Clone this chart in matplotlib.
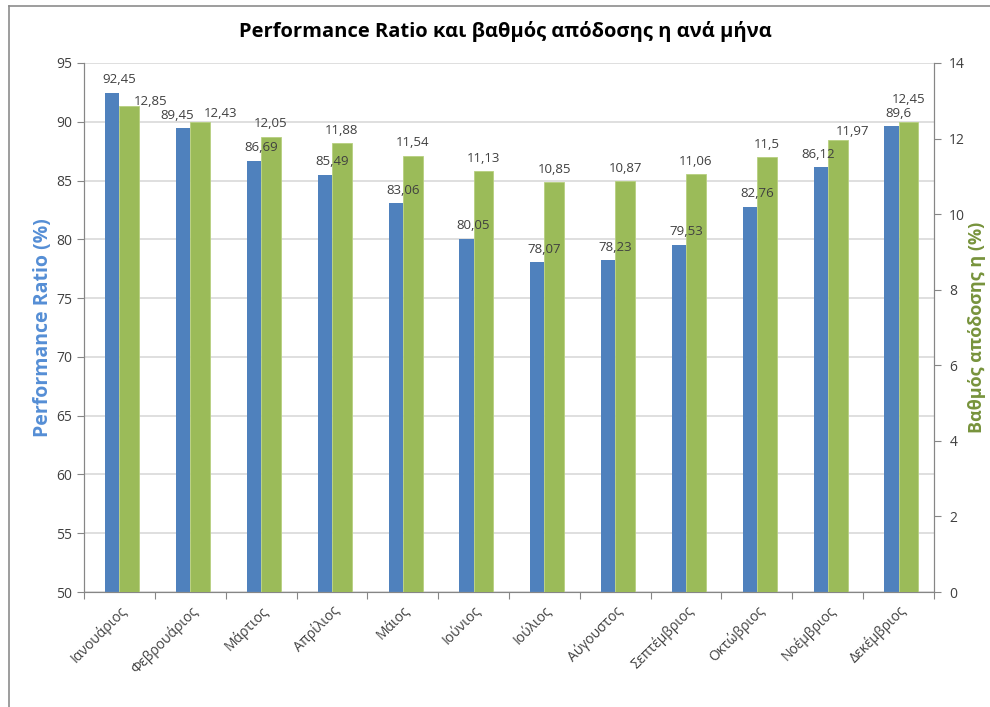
import matplotlib
matplotlib.use("Agg")
import matplotlib.pyplot as plt
import numpy as np
from matplotlib.lines import Line2D

plt.rcParams['font.family'] = ['Open Sans', 'DejaVu Sans']

months = ['Ιανουάριος', 'Φεβρουάριος', 'Μάρτιος', 'Απρίλιος', 'Μάιος', 'Ιούνιος',
          'Ιούλιος', 'Αύγουστος', 'Σεπτέμβριος', 'Οκτώβριος', 'Νοέμβριος', 'Δεκέμβριος']
pr = [92.45, 89.45, 86.69, 85.49, 83.06, 80.05, 78.07, 78.23, 79.53, 82.76, 86.12, 89.6]
eff = [12.85, 12.43, 12.05, 11.88, 11.54, 11.13, 10.85, 10.87, 11.06, 11.5, 11.97, 12.45]

def fmt(v):
    return ('%g' % v).replace('.', ',')

# label nudges (pixels) where excel moved labels to avoid overlap
pr_dx = [0, -13, 0, 0, 0, 0, 0, 0, 0, 0, -10, 0]
pr_dy = [0, 0, 0, 0, 0, 0, 0, 0, 0, 0, 0, 0]
eff_dx = [21, 20, 0, 0, 0, 0, 0, 0, 0, 0, 15, 0]
eff_dy = [-8, -4, 0, 0, 0, 0, 0, 0, 0, 0, -5, 9]

blue = '#4F81BD'
green = '#9BBB59'
grid = '#D9D9D9'
axc = '#868686'

fig = plt.figure(figsize=(9.9, 7.07), dpi=100)
ax = fig.add_axes([84/990, 1-592/707, 850/990, 529/707])
ax2 = ax.twinx()

x = np.arange(len(months))
ax.bar(x, pr, width=-0.2, align='edge', color=blue, zorder=2)
ax.set_ylim(50, 95)
ax.set_yticks(range(50, 96, 5))
ax.set_xlim(-0.5, 11.5)
ax.yaxis.grid(True, color=grid, linewidth=1.2, zorder=0)
ax.set_axisbelow(True)

ax2.bar(x, eff, width=0.28, align='edge', color=green, edgecolor='#B7D07F', linewidth=0.6, zorder=3)
ax2.set_ylim(0, 14)
ax2.set_yticks(range(0, 15, 2))

# all labels on ax2 so they sit above both series
for i in range(len(months)):
    ax2.annotate(fmt(pr[i]), (x[i], pr[i]), xycoords=ax.transData, xytext=(pr_dx[i], 13 - pr_dy[i]),
                 textcoords='offset pixels', ha='center', va='center', fontsize=9.5, color='#404040', zorder=5)
    ax2.annotate(fmt(eff[i]), (x[i] + 0.14, eff[i]), xytext=(eff_dx[i], 13 + eff_dy[i]),
                 textcoords='offset pixels', ha='center', va='center', fontsize=9.5, color='#404040', zorder=5)

ax.set_xticks(np.arange(-0.5, 12, 1), minor=False)
ax.set_xticklabels([])
ax.set_xticks(x, minor=True)
ax.set_xticklabels(months, minor=True, rotation=45, ha='right', rotation_mode='anchor', fontsize=10, color='#404040')
ax.tick_params(axis='x', which='major', length=5, color=axc, direction='out')
ax.tick_params(axis='x', which='minor', length=0, pad=8)
ax.tick_params(axis='y', length=5, color=axc, labelsize=10, labelcolor='#404040')
ax2.tick_params(axis='y', length=5, color=axc, labelsize=10, labelcolor='#404040', pad=6)

for a in (ax, ax2):
    for s in a.spines.values():
        s.set_color(axc)
    a.spines['top'].set_visible(False)
ax.spines['bottom'].set_color('#BFBFBF')

ax.set_ylabel('Performance Ratio (%)', color='#558ED5', fontsize=14, fontweight='bold')
ax.yaxis.set_label_coords(-0.037, 0.5)
ax2.set_ylabel('Βαθμός απόδοσης η (%)', color='#77933C', fontsize=13, fontweight='bold')
ax2.yaxis.set_label_coords(1 + 34/850, 0.5)

fig.text(505/990, 1-32/707, 'Performance Ratio και βαθμός απόδοσης η ανά μήνα',
         ha='center', va='center', fontsize=14.5, fontweight='bold', color='black')

# chart border (left and top visible)
fig.add_artist(Line2D([9/990, 9/990], [0, 1-6/707], color='#8C8C8C', linewidth=1.2, transform=fig.transFigure))
fig.add_artist(Line2D([9/990, 1], [1-6/707, 1-6/707], color='#8C8C8C', linewidth=1.2, transform=fig.transFigure))

fig.savefig('out.png', dpi=100)
